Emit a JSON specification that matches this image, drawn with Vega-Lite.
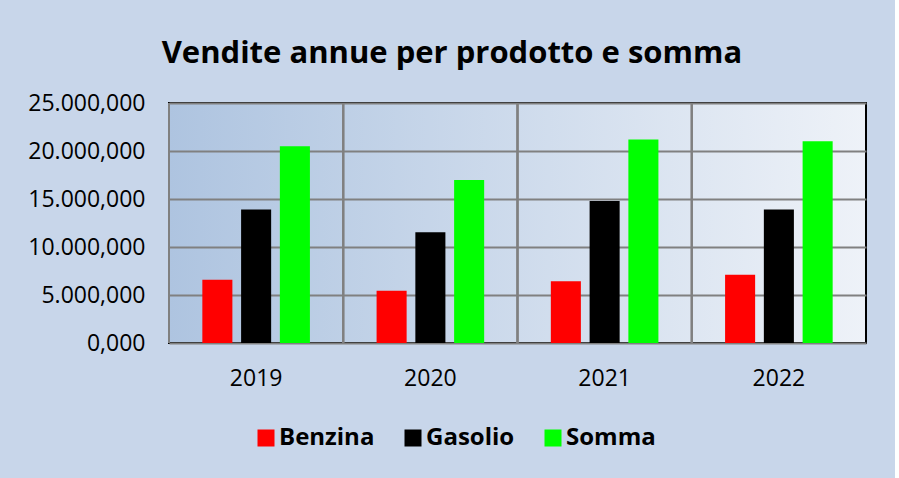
{
  "$schema": "https://vega.github.io/schema/vega-lite/v6.json",
  "width": 697,
  "height": 240,
  "padding": {"left": 27, "top": 38, "right": 29, "bottom": 29},
  "background": "#c8d6ea",
  "config": {
    "locale": {"number": {"decimal": ",", "thousands": ".", "grouping": [3], "currency": ["€", ""]}},
    "font": "Open Sans",
    "view": {
      "stroke": "#000000",
      "strokeWidth": 2,
      "fill": {"gradient": "linear", "x1": 0, "x2": 1, "y1": 0, "y2": 0,
        "stops": [{"offset": 0, "color": "#aec4e0"}, {"offset": 1, "color": "#eef2f8"}]}
    }
  },
  "title": {
    "text": "Vendite annue per prodotto e somma",
    "fontSize": 31,
    "fontWeight": "bold",
    "font": "Open Sans",
    "anchor": "middle",
    "frame": "bounds",
    "offset": 22,
    "dx": 5,
    "color": "#000000"
  },
  "data": {
    "values": [
      {"anno": "2019", "prodotto": "Benzina", "valore": 6600},
      {"anno": "2019", "prodotto": "Gasolio", "valore": 13900},
      {"anno": "2019", "prodotto": "Somma", "valore": 20500},
      {"anno": "2020", "prodotto": "Benzina", "valore": 5450},
      {"anno": "2020", "prodotto": "Gasolio", "valore": 11530},
      {"anno": "2020", "prodotto": "Somma", "valore": 16980},
      {"anno": "2021", "prodotto": "Benzina", "valore": 6420},
      {"anno": "2021", "prodotto": "Gasolio", "valore": 14780},
      {"anno": "2021", "prodotto": "Somma", "valore": 21200},
      {"anno": "2022", "prodotto": "Benzina", "valore": 7120},
      {"anno": "2022", "prodotto": "Gasolio", "valore": 13900},
      {"anno": "2022", "prodotto": "Somma", "valore": 21020}
    ]
  },
  "layer": [
    {
      "mark": {"type": "rule", "color": "#808080", "strokeWidth": 2},
      "encoding": {
        "x": {"field": "anno", "type": "nominal", "bandPosition": 0,
          "scale": {"paddingInner": 0, "paddingOuter": 0},
          "axis": {"title": null, "labelAngle": 0, "ticks": false, "domain": false, "grid": false,
            "labelFontSize": 23, "labelPadding": 24, "labelColor": "#000000"}}
      }
    },
    {
      "mark": {"type": "bar", "strokeWidth": 0},
      "encoding": {
        "x": {"field": "anno", "type": "nominal",
          "scale": {"paddingInner": 0, "paddingOuter": 0},
          "axis": {"title": null, "labelAngle": 0, "ticks": false, "domain": false, "grid": false,
            "labelFontSize": 23, "labelPadding": 24, "labelColor": "#000000"}},
        "xOffset": {"field": "prodotto", "type": "nominal", "sort": ["Benzina", "Gasolio", "Somma"],
          "scale": {"paddingInner": 0.225, "paddingOuter": 0.86}},
        "y": {"field": "valore", "type": "quantitative",
          "scale": {"domain": [0, 25000], "nice": false},
          "axis": {"title": null, "format": ",.3f", "values": [0, 5000, 10000, 15000, 20000, 25000],
            "ticks": false, "domain": false, "labelFontSize": 23, "labelPadding": 24, "labelColor": "#000000",
            "gridColor": "#808080", "gridWidth": 2, "gridOpacity": 1}},
        "color": {"field": "prodotto", "type": "nominal",
          "scale": {"domain": ["Benzina", "Gasolio", "Somma"], "range": ["#ff0000", "#000000", "#00ff00"]},
          "legend": {"orient": "none", "legendX": 85, "legendY": 323, "direction": "horizontal", "title": null,
            "labelFontSize": 24, "labelFontWeight": "bold", "labelColor": "#000000",
            "symbolType": "square", "symbolSize": 289, "symbolStrokeWidth": 0, "symbolOpacity": 1,
            "labelOffset": 1, "columnPadding": 26}}
      }
    }
  ]
}
